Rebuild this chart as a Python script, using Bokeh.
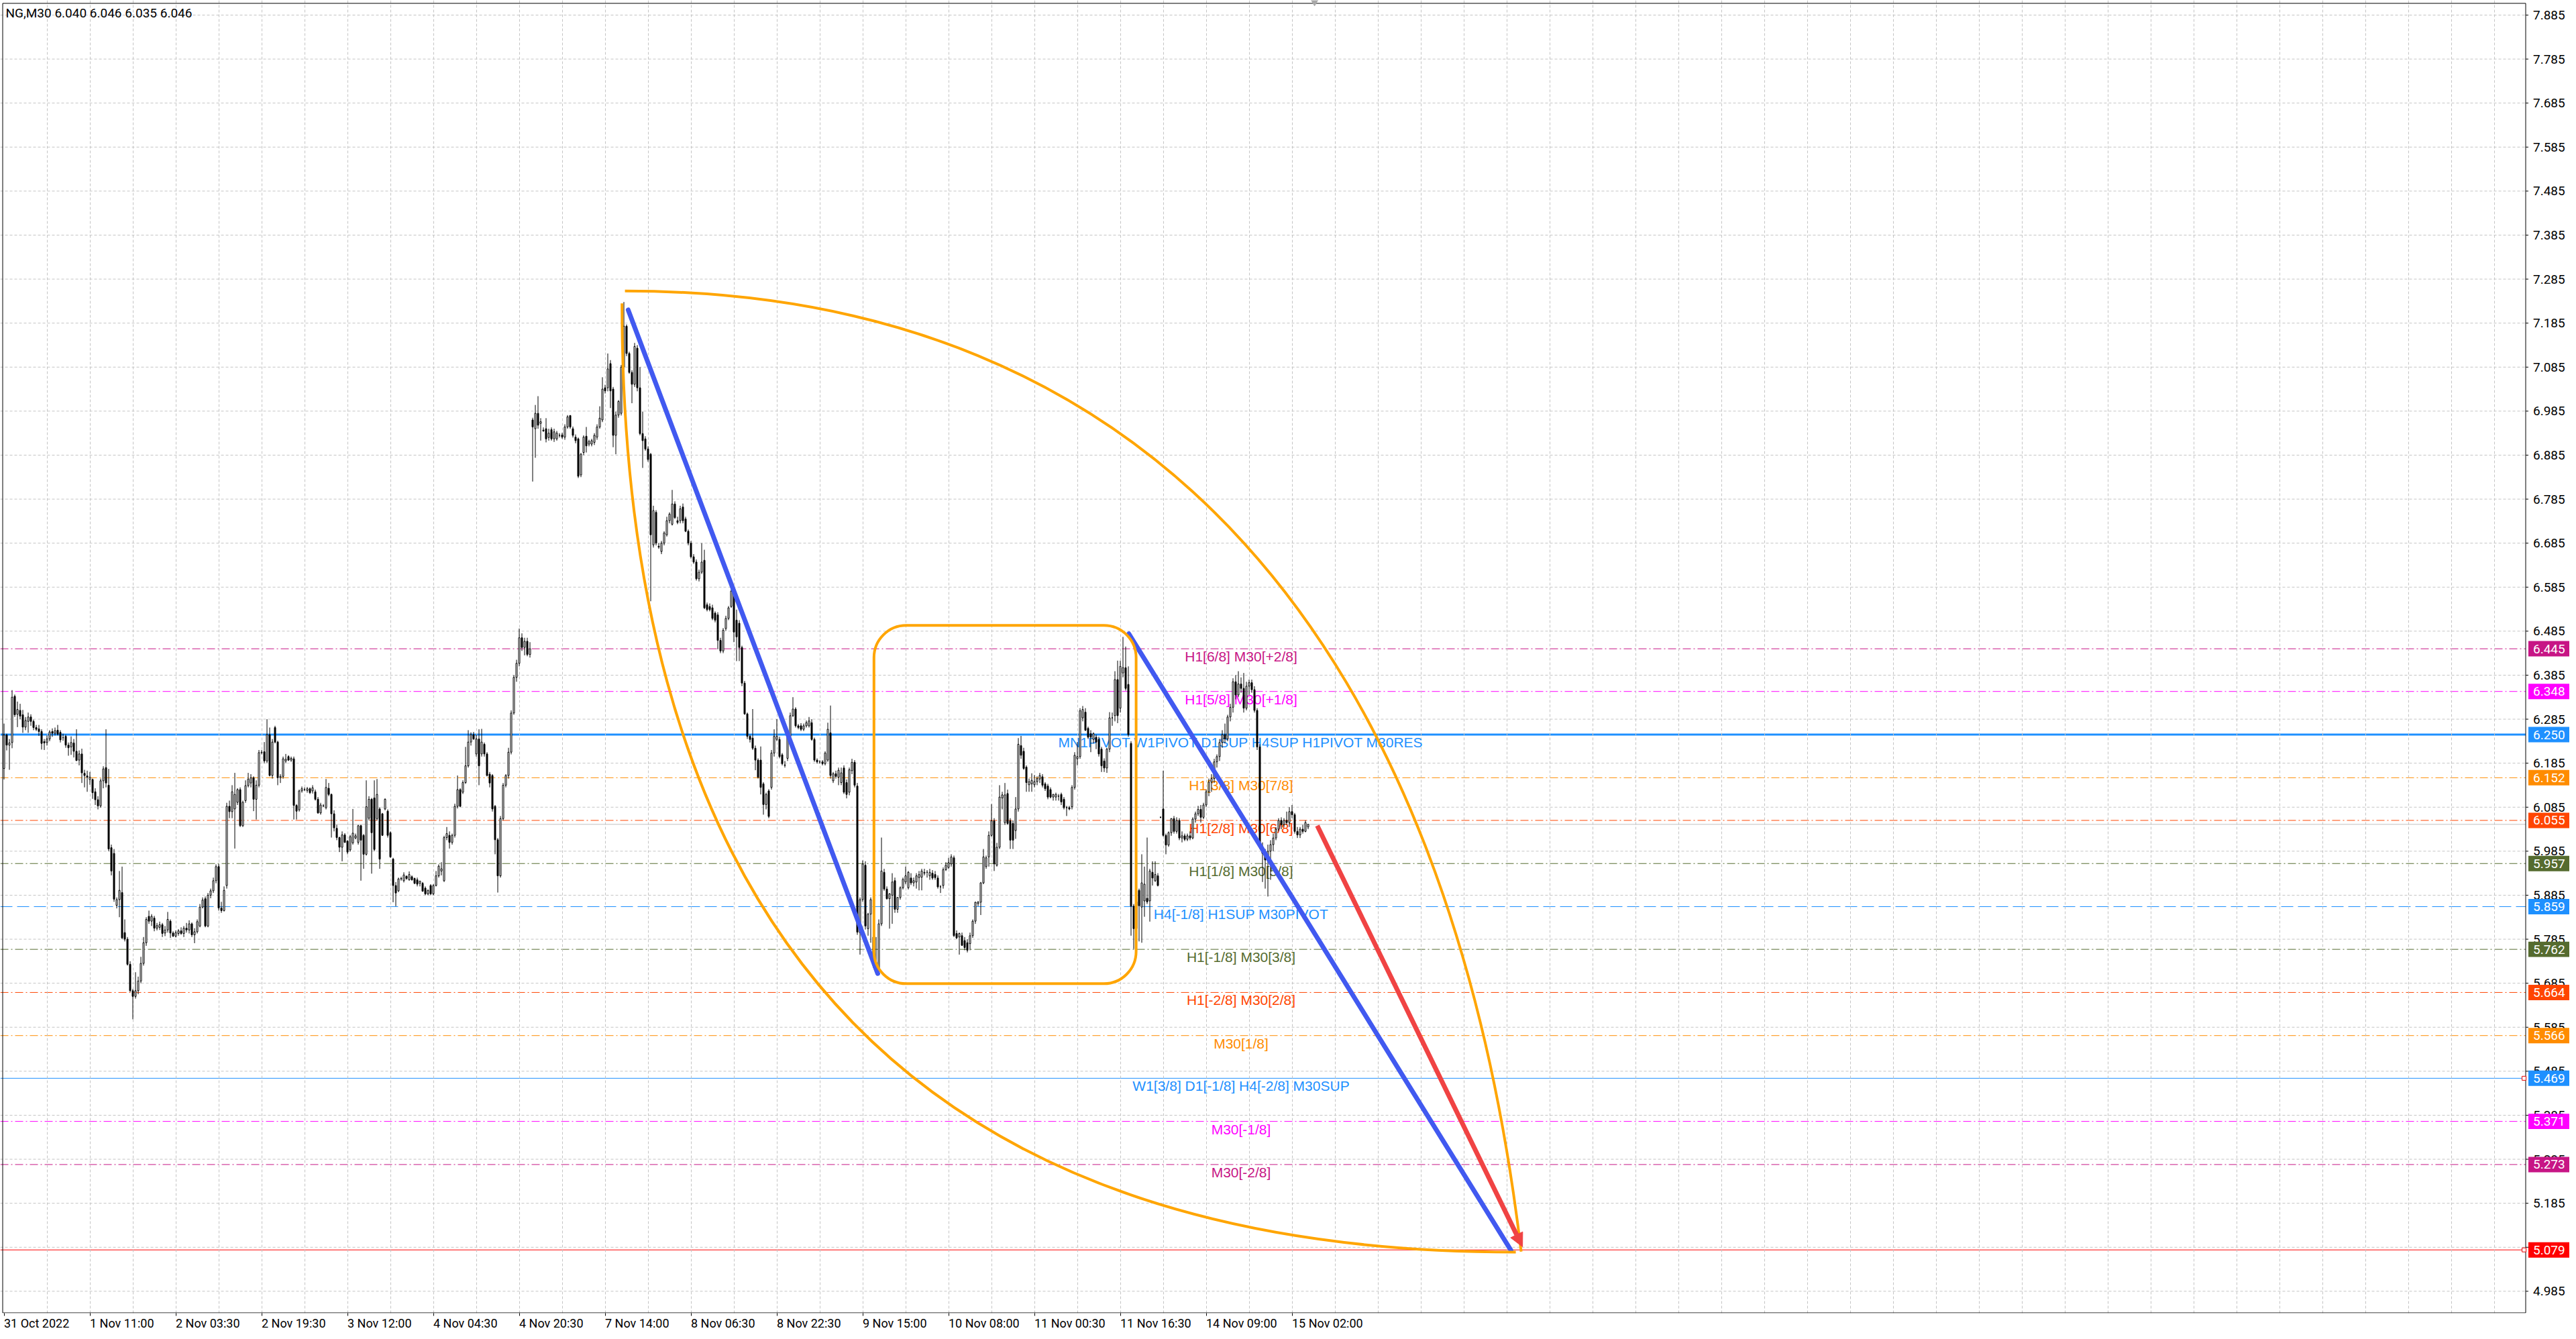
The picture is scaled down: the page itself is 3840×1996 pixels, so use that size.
from bokeh.plotting import figure
from bokeh.models import Range1d, FixedTicker, Label, BoxAnnotation, Arrow, NormalHead, ColumnDataSource
from bokeh.core.properties import value
from bokeh.embed import file_html
from bokeh.resources import INLINE

SYMBOL_TEXT = "NG,M30  6.040 6.046 6.035 6.046"

# ---------------- candles (bar index = position in list) ----------------
OPEN = [
6.173,6.249,6.226,6.232,6.337,6.296,6.305,6.295,6.267,6.280,
6.290,6.280,6.266,6.263,6.257,6.234,6.232,6.240,6.257,6.253,
6.260,6.255,6.243,6.246,6.226,6.222,6.231,6.212,6.192,6.206,
6.162,6.156,6.148,6.148,6.120,6.102,6.088,6.145,6.175,6.135,
5.993,5.980,5.862,5.875,5.891,5.800,5.785,5.728,5.668,5.655,
5.668,5.690,5.730,5.777,5.837,5.826,5.833,5.810,5.812,5.818,
5.799,5.806,5.826,5.799,5.792,5.798,5.804,5.798,5.810,5.806,
5.820,5.795,5.802,5.815,5.858,5.877,5.815,5.885,5.895,5.918,
5.950,5.856,5.850,5.907,6.087,6.075,6.081,6.096,6.125,6.043,
6.100,6.134,6.140,6.152,6.103,6.135,6.209,6.211,6.190,6.250,
6.157,6.266,6.233,6.152,6.155,6.190,6.200,6.192,6.195,6.089,
6.079,6.122,6.125,6.123,6.127,6.122,6.120,6.103,6.072,6.088,
6.084,6.128,6.114,6.070,6.037,6.016,5.994,6.022,6.008,5.988,
6.004,6.015,6.005,6.043,6.021,5.978,6.060,6.103,6.106,6.059,
6.081,6.070,6.081,6.076,6.027,5.967,5.907,5.895,5.923,5.918,
5.928,5.920,5.927,5.923,5.920,5.912,5.912,5.901,5.888,5.907,
5.888,5.907,5.929,5.940,5.918,6.016,6.021,6.005,6.021,6.087,
6.125,6.119,6.141,6.179,6.233,6.250,6.206,6.240,6.206,6.228,
6.206,6.160,6.157,6.087,6.011,5.929,6.059,6.135,6.157,6.210,
6.299,6.380,6.412,6.470,6.448,6.462,6.432,6.965,6.945,6.980,
6.957,6.942,6.945,6.925,6.943,6.922,6.922,6.930,6.931,6.926,
6.949,6.975,6.945,6.926,6.922,6.840,6.891,6.928,6.910,6.910,
6.914,6.926,6.949,6.965,7.038,7.038,7.093,7.035,6.930,6.976,
6.980,7.085,7.178,7.116,7.073,7.046,7.128,7.038,6.934,6.922,
6.899,6.887,6.681,6.755,6.678,6.666,6.685,6.704,6.736,6.728,
6.774,6.736,6.736,6.767,6.740,6.712,6.685,6.654,6.642,6.604,
6.619,6.646,6.545,6.541,6.538,6.526,6.522,6.464,6.440,6.491,
6.514,6.541,6.572,6.510,6.503,6.448,6.367,6.297,6.246,6.242,
6.219,6.192,6.192,6.138,6.091,6.122,6.130,6.208,6.239,6.239,
6.204,6.181,6.196,6.246,6.293,6.308,6.270,6.270,6.262,6.270,
6.270,6.277,6.239,6.192,6.188,6.188,6.184,6.192,6.254,6.145,
6.161,6.153,6.141,6.174,6.141,6.119,6.168,6.187,6.133,5.800,
5.875,5.953,5.809,5.842,5.790,5.725,5.712,5.820,5.937,5.899,
5.877,5.885,5.918,5.853,5.880,5.902,5.915,5.902,5.924,5.913,
5.915,5.925,5.926,5.935,5.937,5.929,5.935,5.932,5.924,5.904,
5.907,5.943,5.948,5.956,5.970,5.798,5.790,5.793,5.782,5.777,
5.775,5.793,5.826,5.866,5.869,5.913,5.950,5.972,6.021,6.054,
5.953,5.994,6.106,6.050,6.116,6.054,6.048,6.032,6.081,6.225,
6.212,6.176,6.136,6.138,6.136,6.143,6.149,6.154,6.138,6.133,
6.125,6.108,6.108,6.110,6.114,6.103,6.084,6.084,6.086,6.130,
6.195,6.200,6.288,6.301,6.264,6.252,6.239,6.244,6.239,6.217,
6.190,6.174,6.217,6.288,6.293,6.375,6.310,6.390,6.402,6.364,
6.230,5.860,5.809,5.896,5.858,5.872,5.878,5.872,5.937,5.918,
5.929,6.062,6.081,6.021,5.999,6.027,6.059,6.030,6.055,6.015,
6.020,6.012,6.020,6.015,6.058,6.070,6.080,6.062,6.090,6.120,
6.142,6.150,6.188,6.200,6.232,6.250,6.240,6.290,6.312,6.370,
6.340,6.365,6.355,6.310,6.360,6.368,6.352,6.305,6.222,5.995,
5.980,5.965,5.985,6.000,6.015,6.035,6.055,6.045,6.055,6.050,
6.075,6.068,6.030,6.022,6.035,6.030,6.040]

HIGH = [
6.275,6.252,6.240,6.351,6.341,6.325,6.320,6.306,6.290,6.300,
6.296,6.284,6.272,6.272,6.262,6.240,6.248,6.260,6.264,6.266,
6.272,6.260,6.252,6.250,6.232,6.246,6.240,6.262,6.214,6.218,
6.170,6.168,6.165,6.150,6.128,6.110,6.150,6.178,6.262,6.172,
6.000,5.990,5.880,5.940,5.950,5.830,5.790,5.735,5.672,5.710,
5.700,5.745,5.790,5.835,5.850,5.842,5.838,5.822,5.825,5.822,
5.815,5.847,5.830,5.803,5.805,5.808,5.812,5.815,5.822,5.828,
5.823,5.810,5.830,5.865,5.880,5.882,5.890,5.900,5.925,5.955,
5.956,5.870,5.905,6.095,6.100,6.135,6.163,6.128,6.130,6.100,
6.146,6.163,6.160,6.155,6.146,6.215,6.215,6.233,6.285,6.266,
6.240,6.270,6.236,6.160,6.200,6.206,6.203,6.200,6.200,6.092,
6.125,6.132,6.130,6.131,6.130,6.135,6.125,6.108,6.095,6.092,
6.149,6.140,6.116,6.078,6.045,6.018,6.030,6.026,6.010,6.022,
6.081,6.025,6.045,6.045,6.024,6.146,6.110,6.106,6.146,6.149,
6.085,6.072,6.105,6.080,6.030,5.970,5.915,5.925,5.927,5.937,
5.930,5.939,5.930,5.925,5.925,5.918,5.915,5.905,5.898,5.910,
5.910,5.940,5.955,5.960,6.020,6.040,6.030,6.025,6.093,6.157,
6.128,6.146,6.222,6.260,6.255,6.256,6.250,6.262,6.263,6.232,
6.210,6.165,6.160,6.090,6.015,6.065,6.140,6.160,6.220,6.305,
6.385,6.420,6.491,6.480,6.470,6.470,6.460,6.970,6.999,7.019,
6.969,6.948,6.969,6.945,6.948,6.945,6.940,6.935,6.936,6.955,
6.976,6.976,6.950,6.932,6.925,6.890,6.930,6.949,6.920,6.922,
6.935,6.955,6.996,7.062,7.045,7.116,7.101,7.040,6.984,7.010,
7.090,7.233,7.182,7.120,7.078,7.140,7.135,7.085,6.984,6.928,
6.905,6.890,6.770,6.760,6.685,6.690,6.712,6.745,6.755,6.806,
6.780,6.745,6.770,6.775,6.745,6.716,6.690,6.660,6.648,6.625,
6.685,6.670,6.550,6.548,6.545,6.530,6.528,6.470,6.492,6.520,
6.542,6.580,6.578,6.534,6.510,6.452,6.372,6.300,6.250,6.308,
6.225,6.196,6.223,6.142,6.118,6.126,6.215,6.262,6.285,6.245,
6.208,6.190,6.250,6.300,6.335,6.312,6.274,6.276,6.275,6.282,
6.290,6.285,6.243,6.196,6.192,6.192,6.212,6.277,6.316,6.165,
6.168,6.175,6.175,6.180,6.148,6.175,6.195,6.192,6.140,5.880,
5.964,5.962,5.845,5.880,5.800,5.790,5.830,6.016,5.945,5.905,
5.890,5.935,5.925,5.880,5.905,5.925,5.950,5.940,5.935,5.925,
5.935,5.940,5.945,5.945,5.942,5.945,5.942,5.940,5.930,5.908,
5.948,5.960,5.970,5.978,5.975,5.805,5.800,5.800,5.790,5.785,
5.800,5.830,5.870,5.872,5.915,5.990,5.975,6.030,6.092,6.060,
6.004,6.135,6.120,6.140,6.125,6.060,6.055,6.108,6.242,6.247,
6.220,6.180,6.150,6.162,6.158,6.155,6.163,6.160,6.142,6.138,
6.130,6.115,6.118,6.115,6.118,6.108,6.088,6.088,6.135,6.210,
6.233,6.310,6.315,6.310,6.268,6.260,6.255,6.250,6.245,6.222,
6.196,6.220,6.301,6.300,6.394,6.418,6.418,6.472,6.450,6.405,
6.235,5.865,5.880,5.900,5.978,5.950,6.016,5.945,5.962,5.962,
5.935,6.064,6.168,6.025,6.030,6.060,6.065,6.062,6.060,6.030,
6.025,6.025,6.030,6.062,6.075,6.088,6.090,6.095,6.125,6.150,
6.160,6.195,6.205,6.240,6.260,6.275,6.295,6.320,6.378,6.385,
6.394,6.380,6.390,6.370,6.375,6.375,6.360,6.310,6.228,6.005,
5.990,6.000,6.010,6.025,6.040,6.060,6.062,6.060,6.075,6.085,
6.090,6.072,6.040,6.040,6.045,6.055,6.046]

LOW = [
6.148,6.214,6.170,6.219,6.290,6.267,6.285,6.254,6.260,6.254,
6.270,6.260,6.258,6.247,6.216,6.215,6.225,6.235,6.245,6.248,
6.248,6.232,6.236,6.220,6.202,6.204,6.198,6.190,6.180,6.140,
6.130,6.120,6.136,6.104,6.090,6.080,6.084,6.128,6.130,5.985,
5.930,5.870,5.855,5.835,5.785,5.780,5.725,5.665,5.603,5.650,
5.660,5.685,5.725,5.770,5.820,5.815,5.803,5.805,5.806,5.790,
5.792,5.800,5.788,5.790,5.789,5.793,5.795,5.790,5.800,5.798,
5.790,5.776,5.798,5.812,5.855,5.812,5.812,5.878,5.890,5.912,
5.850,5.845,5.848,5.900,6.060,6.060,5.991,6.090,6.040,6.040,
6.095,6.130,6.130,6.076,6.057,6.130,6.205,6.185,6.185,6.155,
6.150,6.230,6.135,6.140,6.150,6.185,6.190,6.188,6.057,6.057,
6.075,6.118,6.122,6.118,6.115,6.116,6.100,6.070,6.068,6.085,
6.080,6.110,6.016,6.030,6.010,5.983,5.962,6.004,5.978,5.984,
6.000,6.012,6.000,5.918,5.945,5.975,6.055,5.934,5.985,6.055,
5.945,6.020,6.078,6.016,5.970,5.869,5.860,5.892,5.918,5.914,
5.920,5.918,5.918,5.910,5.905,5.905,5.893,5.885,5.885,5.885,
5.885,5.905,5.925,5.930,5.915,6.010,5.991,6.000,6.016,6.082,
6.085,6.115,6.138,6.175,6.225,6.238,6.200,6.135,6.200,6.200,
6.155,6.130,6.075,5.978,5.891,5.925,6.055,6.130,6.150,6.205,
6.295,6.370,6.405,6.440,6.430,6.428,6.425,6.825,6.879,6.945,
6.918,6.938,6.914,6.918,6.918,6.915,6.918,6.925,6.922,6.920,
6.945,6.945,6.925,6.912,6.833,6.835,6.885,6.891,6.905,6.905,
6.908,6.920,6.945,6.960,7.025,7.030,6.992,6.903,6.887,6.970,
6.975,7.080,7.110,7.070,7.003,7.040,7.030,6.930,6.856,6.895,
6.870,6.553,6.675,6.680,6.672,6.660,6.680,6.700,6.730,6.725,
6.740,6.728,6.730,6.730,6.710,6.680,6.650,6.638,6.600,6.598,
6.615,6.535,6.530,6.530,6.510,6.505,6.444,6.435,6.435,6.486,
6.510,6.538,6.460,6.417,6.417,6.360,6.295,6.240,6.232,6.215,
6.169,6.150,6.114,6.068,6.080,6.060,6.125,6.200,6.235,6.196,
6.180,6.175,6.190,6.240,6.290,6.266,6.262,6.258,6.258,6.266,
6.266,6.236,6.188,6.184,6.184,6.180,6.180,6.188,6.150,6.140,
6.150,6.135,6.135,6.115,6.105,6.112,6.160,6.130,5.795,5.750,
5.870,5.807,5.793,5.777,5.720,5.705,5.705,5.815,5.895,5.875,
5.809,5.820,5.845,5.845,5.875,5.898,5.910,5.898,5.908,5.905,
5.900,5.896,5.896,5.930,5.925,5.920,5.920,5.920,5.900,5.890,
5.900,5.940,5.945,5.950,5.790,5.785,5.750,5.770,5.760,5.755,
5.760,5.788,5.820,5.860,5.840,5.910,5.945,5.950,6.018,5.940,
5.950,5.990,6.080,6.045,6.045,5.990,5.990,6.013,6.075,6.195,
6.170,6.120,6.120,6.120,6.130,6.135,6.140,6.130,6.122,6.103,
6.105,6.100,6.100,6.100,6.090,6.080,6.065,6.078,6.080,6.125,
6.180,6.195,6.280,6.258,6.240,6.210,6.230,6.217,6.200,6.165,
6.165,6.163,6.210,6.270,6.280,6.276,6.300,6.380,6.350,6.245,
5.793,5.763,5.770,5.780,5.777,5.836,5.865,5.825,5.907,5.915,
5.905,6.060,6.018,5.978,5.995,6.020,6.025,6.025,6.010,6.005,
6.008,6.008,6.010,6.012,6.050,6.065,6.050,6.058,6.085,6.110,
6.120,6.140,6.175,6.190,6.220,6.230,6.235,6.280,6.300,6.330,
6.335,6.345,6.300,6.305,6.340,6.345,6.300,6.215,5.990,5.915,
5.900,5.882,5.920,5.985,6.010,6.030,6.035,6.040,6.045,6.040,
6.060,6.025,6.015,6.015,6.025,6.028,6.035]

CLOSE = [
6.249,6.226,6.231,6.335,6.295,6.307,6.292,6.267,6.282,6.290,
6.280,6.266,6.262,6.257,6.230,6.231,6.240,6.256,6.253,6.259,
6.251,6.238,6.243,6.226,6.220,6.232,6.212,6.191,6.206,6.163,
6.157,6.153,6.153,6.118,6.102,6.088,6.145,6.172,6.140,5.990,
5.940,5.876,5.875,5.896,5.788,5.785,5.728,5.668,5.655,5.668,
5.690,5.730,5.777,5.830,5.826,5.837,5.810,5.816,5.818,5.798,
5.806,5.830,5.799,5.792,5.800,5.804,5.798,5.810,5.806,5.820,
5.795,5.802,5.825,5.858,5.874,5.815,5.885,5.895,5.918,5.950,
5.856,5.850,5.896,6.087,6.075,6.120,6.114,6.125,6.043,6.096,
6.134,6.149,6.152,6.103,6.135,6.209,6.210,6.190,6.250,6.157,
6.233,6.233,6.152,6.155,6.195,6.194,6.192,6.196,6.089,6.076,
6.122,6.127,6.125,6.127,6.118,6.129,6.103,6.072,6.090,6.088,
6.130,6.114,6.070,6.038,6.016,5.994,6.022,6.005,5.983,6.018,
6.026,6.020,6.043,6.010,5.978,6.086,6.103,6.027,5.989,6.114,
5.967,6.021,6.103,6.021,5.972,5.907,5.890,5.922,5.922,5.931,
5.923,5.932,5.920,5.912,5.910,5.917,5.894,5.888,5.896,5.888,
5.907,5.929,5.951,5.945,6.016,6.025,6.005,6.021,6.087,6.125,
6.087,6.141,6.179,6.233,6.250,6.240,6.240,6.179,6.233,6.206,
6.157,6.140,6.081,6.011,5.929,6.059,6.135,6.157,6.210,6.299,
6.380,6.412,6.470,6.448,6.462,6.432,6.445,6.949,6.980,6.953,
6.961,6.940,6.922,6.935,6.922,6.938,6.935,6.930,6.926,6.949,
6.972,6.949,6.930,6.918,6.837,6.887,6.926,6.906,6.916,6.918,
6.930,6.949,6.969,7.035,7.031,7.081,7.031,6.930,6.976,7.007,
7.085,7.178,7.116,7.073,7.046,7.132,7.038,6.934,6.918,6.899,
6.875,6.704,6.759,6.685,6.676,6.685,6.708,6.736,6.751,6.774,
6.743,6.732,6.763,6.736,6.712,6.685,6.654,6.642,6.604,6.619,
6.642,6.538,6.534,6.534,6.514,6.510,6.464,6.440,6.487,6.514,
6.538,6.576,6.483,6.472,6.448,6.367,6.297,6.246,6.239,6.219,
6.192,6.153,6.130,6.091,6.114,6.064,6.208,6.246,6.246,6.200,
6.184,6.180,6.246,6.293,6.308,6.270,6.266,6.262,6.270,6.277,
6.281,6.239,6.192,6.188,6.188,6.184,6.208,6.262,6.157,6.161,
6.155,6.169,6.163,6.119,6.114,6.170,6.187,6.135,5.801,5.875,
5.956,5.815,5.842,5.875,5.725,5.710,5.820,5.940,5.899,5.877,
5.888,5.915,5.853,5.880,5.902,5.921,5.929,5.937,5.913,5.918,
5.929,5.932,5.940,5.937,5.937,5.937,5.924,5.925,5.904,5.904,
5.943,5.953,5.959,5.972,5.793,5.788,5.798,5.771,5.766,5.760,
5.793,5.826,5.869,5.869,5.913,5.972,5.970,6.021,6.054,5.956,
5.994,6.108,6.113,6.113,6.048,6.010,6.010,6.081,6.228,6.203,
6.173,6.141,6.143,6.146,6.143,6.150,6.157,6.135,6.127,6.108,
6.108,6.114,6.114,6.110,6.097,6.084,6.084,6.081,6.130,6.203,
6.200,6.304,6.307,6.260,6.244,6.244,6.252,6.233,6.206,6.179,
6.174,6.217,6.288,6.288,6.375,6.293,6.405,6.402,6.355,6.250,
5.860,5.809,5.870,5.861,5.913,5.910,5.870,5.940,5.924,5.932,
5.907,6.062,6.021,5.999,6.027,6.059,6.030,6.055,6.015,6.020,
6.012,6.020,6.015,6.058,6.070,6.080,6.062,6.090,6.120,6.142,
6.150,6.188,6.200,6.232,6.250,6.240,6.290,6.312,6.370,6.340,
6.365,6.355,6.310,6.360,6.368,6.352,6.305,6.222,5.995,5.980,
5.965,5.985,6.000,6.015,6.035,6.055,6.045,6.055,6.050,6.075,
6.068,6.030,6.022,6.035,6.030,6.050,6.046]

# ---------------- axes ----------------
TIME_TICKS = [0, 32, 64, 96, 128, 160, 192, 224, 256, 288, 320, 352, 384, 416, 448, 480]
TIME_LABELS = ["31 Oct 2022", "1 Nov 11:00", "2 Nov 03:30", "2 Nov 19:30", "3 Nov 12:00",
               "4 Nov 04:30", "4 Nov 20:30", "7 Nov 14:00", "8 Nov 06:30", "8 Nov 22:30",
               "9 Nov 15:00", "10 Nov 08:00", "11 Nov 00:30", "11 Nov 16:30",
               "14 Nov 09:00", "15 Nov 02:00"]
GRID_BARS = list(range(16, 939, 16))
PRICE_TICKS = [4.985, 5.085, 5.185, 5.285, 5.385, 5.485, 5.585, 5.685, 5.785, 5.885,
               5.985, 6.085, 6.185, 6.285, 6.385, 6.485, 6.585, 6.685, 6.785, 6.885,
               6.985, 7.085, 7.185, 7.285, 7.385, 7.485, 7.585, 7.685, 7.785, 7.885]

# ---------------- horizontal levels ----------------
LEVEL_PRICES = [6.445, 6.348, 6.250, 6.152, 6.055, 5.957, 5.859,
                5.762, 5.664, 5.566, 5.469, 5.371, 5.273, 5.079]
LEVEL_LABELS = ["H1[6/8] M30[+2/8]", "H1[5/8] M30[+1/8]",
                "MN1PIVOT W1PIVOT D1SUP H4SUP H1PIVOT M30RES",
                "H1[3/8] M30[7/8]", "H1[2/8] M30[6/8]", "H1[1/8] M30[5/8]",
                "H4[-1/8] H1SUP M30PIVOT", "H1[-1/8] M30[3/8]", "H1[-2/8] M30[2/8]",
                "M30[1/8]", "W1[3/8] D1[-1/8] H4[-2/8] M30SUP", "M30[-1/8]", "M30[-2/8]", ""]
LEVEL_COLORS = ["#C71585", "#FF00FF", "#1E90FF", "#FF8C00", "#FF4500", "#556B2F", "#1E90FF",
                "#556B2F", "#FF4500", "#FF8C00", "#1E90FF", "#FF00FF", "#C71585", "#FF0000"]
LEVEL_DASH = ["12 4 2 4", "12 4 2 4", "solid", "12 4 2 4", "12 4 2 4", "12 4 2 4", "18 7",
              "12 4 2 4", "12 4 2 4", "12 4 2 4", "solid", "12 4 2 4", "12 4 2 4", "solid"]
LEVEL_WIDTH = [1, 1, 3, 1, 1, 1, 1, 1, 1, 1, 1, 1, 1, 1]
END_MARK_PRICES = [5.469, 5.079]
BID_PRICE = 6.046
LABEL_BAR = 461
SHIFT_MARK_BAR = 488.4

# ---------------- drawn objects (bar index, price) ----------------
ARC_UPPER = dict(x0=231.4, y0=7.258, cx0=428.4, cy0=7.258, cx1=538.4, cy1=6.457, x1=565.4, y1=5.075)
ARC_LOWER = dict(x0=230.3, y0=7.230, cx=230.3, cy=5.074, x1=563.4, y1=5.074)
RANGE_BOX = dict(left=324.2, right=421.9, top=6.498, bottom=5.684)
TREND_X0 = [232.6, 419.2]
TREND_Y0 = [7.215, 6.479]
TREND_X1 = [325.6, 561.6]
TREND_Y1 = [5.707, 5.078]
ARROW_PTS = dict(x_start=489.4, y_start=6.043, x_end=565.9, y_end=5.086)

# ---------------- geometry ----------------
FIG_W, FRAME_H, BOTTOM_PX = 3832, 1960, 36
PX_PER_BAR = 4.0
X0 = -1.375                       # bar i is centred at pixel 5.5 + 4 i
I_AXIS = X0 + 3764.5 / PX_PER_BAR  # price-scale line
PX_PER_UNIT = 657.0
Y_TOP = 7.885 + 22 / PX_PER_UNIT
Y_BOT = Y_TOP - FRAME_H / PX_PER_UNIT

AXIS_FONT = value("Roboto")
ORANGE = "#FFA500"
BLUE = "#4159F0"
RED = "#F04343"
GRID = "#C4C4C4"

p = figure(width=FIG_W, height=FRAME_H + BOTTOM_PX,
           x_range=Range1d(X0, X0 + FIG_W / PX_PER_BAR),
           y_range=Range1d(Y_BOT, Y_TOP),
           output_backend="svg", toolbar_location=None,
           y_axis_location=None, x_axis_location="below",
           min_border_left=0, min_border_top=0, min_border_right=0, min_border_bottom=BOTTOM_PX)
p.background_fill_color = "white"
p.border_fill_color = "white"
p.outline_line_color = None

# time axis (left-aligned labels via a tiny negative orientation)
xa = p.xaxis[0]
xa.ticker = FixedTicker(ticks=TIME_TICKS)
xa.major_label_overrides = {t: s for t, s in zip(TIME_TICKS, TIME_LABELS)}
xa.major_label_orientation = -0.0001
xa.major_label_text_font = "Roboto"
xa.major_label_text_font_size = "18px"
xa.major_label_text_color = "black"
xa.major_label_standoff = 11
xa.major_tick_out = 4
xa.major_tick_in = 0
xa.minor_tick_line_color = None
xa.axis_line_color = None
xa.major_tick_line_color = "black"

p.xgrid.ticker = FixedTicker(ticks=GRID_BARS)
p.xgrid.grid_line_color = GRID
p.xgrid.grid_line_dash = "4 3"
p.ygrid.visible = False

# horizontal grid (stops at the price scale)
p.segment(x0=[X0] * len(PRICE_TICKS), y0=PRICE_TICKS, x1=[I_AXIS] * len(PRICE_TICKS), y1=PRICE_TICKS,
          line_color=GRID, line_dash="4 3", line_width=1, level="underlay")

# level lines
for price, col, dash, w in zip(LEVEL_PRICES, LEVEL_COLORS, LEVEL_DASH, LEVEL_WIDTH):
    p.segment(x0=[X0], y0=[price], x1=[I_AXIS], y1=[price], line_color=col,
              line_dash=dash, line_width=w, level="underlay")
p.segment(x0=[X0], y0=[BID_PRICE], x1=[I_AXIS], y1=[BID_PRICE], line_color="#C0C0C0",
          line_width=1, level="underlay")

# level labels (just below their lines)
lab_idx = [k for k, t in enumerate(LEVEL_LABELS) if t]
p.text(x=[LABEL_BAR] * len(lab_idx),
       y=[LEVEL_PRICES[k] - 11.5 / PX_PER_UNIT for k in lab_idx],
       text=[LEVEL_LABELS[k] for k in lab_idx],
       text_color=[LEVEL_COLORS[k] for k in lab_idx],
       text_align="center", text_baseline="middle",
       text_font=value("Liberation Sans"), text_font_size="21px")

# candles
n = min(len(OPEN), len(HIGH), len(LOW), len(CLOSE))
idx = list(range(n))
src = ColumnDataSource(dict(
    i=idx, o=OPEN[:n], h=HIGH[:n], l=LOW[:n], c=CLOSE[:n],
    top=[max(OPEN[k], CLOSE[k]) for k in idx],
    bot=[min(OPEN[k], CLOSE[k]) for k in idx],
    fill=["white" if CLOSE[k] >= OPEN[k] else "black" for k in idx]))
p.segment(x0="i", y0="l", x1="i", y1="h", source=src, line_color="black", line_width=1)
p.vbar(x="i", width=0.5, top="top", bottom="bot", source=src,
       fill_color="fill", line_color="black", line_width=1)

# trend lines
p.segment(x0=TREND_X0, y0=TREND_Y0, x1=TREND_X1, y1=TREND_Y1,
          line_color=BLUE, line_width=7, line_cap="round")

# arcs
p.bezier(x0=[ARC_UPPER["x0"]], y0=[ARC_UPPER["y0"]], x1=[ARC_UPPER["x1"]], y1=[ARC_UPPER["y1"]],
         cx0=[ARC_UPPER["cx0"]], cy0=[ARC_UPPER["cy0"]], cx1=[ARC_UPPER["cx1"]], cy1=[ARC_UPPER["cy1"]],
         line_color=ORANGE, line_width=4)
p.quadratic(x0=[ARC_LOWER["x0"]], y0=[ARC_LOWER["y0"]], x1=[ARC_LOWER["x1"]], y1=[ARC_LOWER["y1"]],
            cx=[ARC_LOWER["cx"]], cy=[ARC_LOWER["cy"]], line_color=ORANGE, line_width=4)

# chart border: top, left, bottom, price-scale line
LEFT_B = X0 + 3.5 / PX_PER_BAR
TOP_B = Y_TOP - 4.5 / PX_PER_UNIT
BOT_B = Y_BOT + 0.5 / PX_PER_UNIT
p.segment(x0=[LEFT_B, LEFT_B, LEFT_B, I_AXIS], y0=[TOP_B, BOT_B, BOT_B, BOT_B],
          x1=[I_AXIS, LEFT_B, I_AXIS, I_AXIS], y1=[TOP_B, TOP_B, BOT_B, TOP_B],
          line_color="black", line_width=1)

# price scale: ticks and labels
p.segment(x0=[I_AXIS] * len(PRICE_TICKS), y0=PRICE_TICKS, x1=[I_AXIS + 1.0] * len(PRICE_TICKS), y1=PRICE_TICKS,
          line_color="black", line_width=1)
p.text(x=[I_AXIS + 11 / PX_PER_BAR] * len(PRICE_TICKS), y=PRICE_TICKS,
       text=[f"{t:.3f}" for t in PRICE_TICKS], text_color="black",
       text_align="left", text_baseline="middle", text_font=AXIS_FONT, text_font_size="19px")

# price-scale boxes for the levels
p.rect(x=[I_AXIS + 34.5 / PX_PER_BAR] * len(LEVEL_PRICES), y=LEVEL_PRICES,
       width=61 / PX_PER_BAR, height=23 / PX_PER_UNIT,
       fill_color=LEVEL_COLORS, line_color=None)
p.text(x=[I_AXIS + 11 / PX_PER_BAR] * len(LEVEL_PRICES), y=LEVEL_PRICES,
       text=[f"{v:.3f}" for v in LEVEL_PRICES], text_color="white",
       text_align="left", text_baseline="middle", text_font=AXIS_FONT, text_font_size="19px")

# small end markers on two lines and the chart-shift marker at the top
p.scatter(x=[I_AXIS - 0.6] * len(END_MARK_PRICES), y=END_MARK_PRICES, marker="square",
          size=6, fill_color="white", line_color="#E00000", line_width=1)
p.scatter(x=[SHIFT_MARK_BAR], y=[Y_TOP - 2 / PX_PER_UNIT], marker="inverted_triangle",
          size=11, fill_color="#A8A8A8", line_color="#A8A8A8")

# rounded range box
p.add_layout(BoxAnnotation(left=RANGE_BOX["left"], right=RANGE_BOX["right"],
                           top=RANGE_BOX["top"], bottom=RANGE_BOX["bottom"],
                           fill_alpha=0, line_color=ORANGE, line_alpha=1.0, line_width=4,
                           border_radius=48))

# red forecast arrow
p.add_layout(Arrow(end=NormalHead(size=20, fill_color=RED, line_color=RED),
                   line_color=RED, line_width=7, **ARROW_PTS))

# symbol header
p.add_layout(Label(x=8, y=FRAME_H - 10, x_units="screen", y_units="screen",
                   text=SYMBOL_TEXT, text_color="black", text_font="Roboto",
                   text_font_size="19px", text_baseline="top", text_align="left"))

open("out.html", "w").write(file_html(p, INLINE))
